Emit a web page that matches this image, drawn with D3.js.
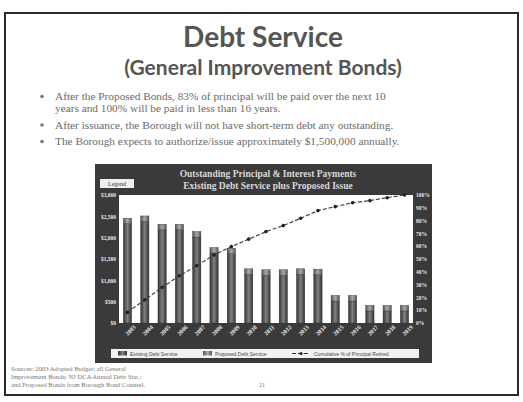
<!DOCTYPE html>
<html>
<head>
<meta charset="utf-8">
<script src="https://cdn.jsdelivr.net/npm/d3@7"></script>
<style>
  body { margin: 0; background: #fff; }
  svg { display: block; }
</style>
</head>
<body>
<div class="canva"></div>
<script>
// values (thousands of $)
const years = ['2003','2004','2005','2006','2007','2008','2009','2010','2011',
               '2012','2013','2014','2015','2016','2017','2018','2019'];
const existing = [2325, 2379, 2184, 2184, 2013, 1639, 1623, 1140, 1117, 1117, 1140, 1132, 517, 517, 283, 283, 283];
const proposed = [130, 130, 130, 130, 130, 130, 130, 130, 130, 130, 130, 130, 130, 130, 130, 130, 130];
const cumRetired = [8.3, 18.2, 27.8, 36.9, 44.7, 53.2, 59.7, 65.5, 71.4, 76.1, 81.8, 87.8, 90.9, 94.0, 95.6, 97.9, 100];
const dollarTicks = [0, 500, 1000, 1500, 2000, 2500, 3000];
const pctTicks = [0, 10, 20, 30, 40, 50, 60, 70, 80, 90, 100];
const seriesNames = ['Existing Debt Service', 'Proposed Debt Service', 'Cumulative % of Principal Retired'];

const bullets = [
  ['After the Proposed Bonds, 83% of principal will be paid over the next 10',
   'years and 100% will be paid in less than 16 years.'],
  ['After issuance, the Borough will not have short-term debt any outstanding.'],
  ['The Borough expects to authorize/issue approximately $1,500,000 annually.']
];
const footnote = [
  'Sources: 2003 Adopted Budget; all General',
  'Improvement Bonds; NJ DCA Annual Debt Stat.;',
  'and Proposed Bonds from Borough Bond Counsel.'
];

const svg = d3.select('.canva').append('svg')
    .attr('width', 523)
    .attr('height', 402)

const defs = svg.append('defs')
const g1 = defs.append('linearGradient').attr('id', 'barA')
g1.append('stop').attr('offset', '0%').attr('stop-color', '#333')
g1.append('stop').attr('offset', '50%').attr('stop-color', '#808080')
g1.append('stop').attr('offset', '100%').attr('stop-color', '#333')
const g2 = defs.append('linearGradient').attr('id', 'barB')
g2.append('stop').attr('offset', '0%').attr('stop-color', '#555')
g2.append('stop').attr('offset', '50%').attr('stop-color', '#aaa')
g2.append('stop').attr('offset', '100%').attr('stop-color', '#555')

// slide frame
svg.append('rect')
    .attr('x', 5).attr('y', 13).attr('width', 513).attr('height', 382)
    .attr('fill', '#fff').attr('stroke', '#2a2a2a').attr('stroke-width', 2)

svg.append('text')
    .attr('x', 263).attr('y', 47)
    .attr('text-anchor', 'middle')
    .style('font-family', 'Lato, sans-serif').style('font-weight', 'bold')
    .style('font-size', '28px').attr('fill', '#555')
    .text('Debt Service')
svg.append('text')
    .attr('x', 263).attr('y', 75)
    .attr('text-anchor', 'middle')
    .style('font-family', 'Lato, sans-serif').style('font-weight', 'bold')
    .style('font-size', '21px').attr('fill', '#555')
    .text('(General Improvement Bonds)')

let by = 100
bullets.forEach(lines => {
    svg.append('circle').attr('cx', 42).attr('cy', by - 3.5).attr('r', 1.8).attr('fill', '#777')
    lines.forEach(l => {
        svg.append('text')
            .attr('x', 55).attr('y', by)
            .style('font-family', '"Liberation Serif", serif')
            .style('font-size', '11.3px').attr('fill', '#6a6a6a')
            .text(l)
        by += 12
    })
    by += 4.5
})

// chart box
const box = { x: 95, y: 164, w: 337, h: 199 }
svg.append('rect')
    .attr('x', box.x).attr('y', box.y).attr('width', box.w).attr('height', box.h)
    .attr('fill', '#3a3a3a')

const titleLines = ['Outstanding Principal & Interest Payments', 'Existing Debt Service plus Proposed Issue']
titleLines.forEach((t, i) => {
    svg.append('text')
        .attr('x', 268).attr('y', 177 + i * 12)
        .attr('text-anchor', 'middle')
        .style('font-family', '"Liberation Serif", serif').style('font-weight', 'bold')
        .style('font-size', '9.5px').attr('fill', '#d8d8d8')
        .text(t)
})

svg.append('rect').attr('x', 100).attr('y', 179).attr('width', 34).attr('height', 9).attr('fill', '#eee')
svg.append('text').attr('x', 117).attr('y', 186).attr('text-anchor', 'middle')
    .style('font-family', '"Liberation Serif", serif').style('font-size', '6px').attr('fill', '#333')
    .text('Legend')

const plot = { x: 119, y: 195, w: 294, h: 128 }
const graph = svg.append('g').attr('transform', `translate(${plot.x}, ${plot.y})`)

graph.append('rect').attr('width', plot.w).attr('height', plot.h).attr('fill', '#fff')

const x = d3.scaleBand().domain(years).range([0, plot.w]).paddingInner(0.52).paddingOuter(0.25)
const y = d3.scaleLinear().domain([0, 3000]).range([plot.h, 0])
const yp = d3.scaleLinear().domain([0, 100]).range([plot.h, 0])

const rows = years.map((yr, i) => ({ year: yr, existing: existing[i], proposed: proposed[i] }))
const stack = d3.stack().keys(['existing', 'proposed'])(rows)

graph.selectAll('g.layer').data(stack).enter().append('g')
    .attr('fill', (d, i) => i === 0 ? 'url(#barA)' : 'url(#barB)')
    .selectAll('rect').data(d => d).enter().append('rect')
    .attr('x', d => x(d.data.year))
    .attr('width', x.bandwidth())
    .attr('y', d => y(d[1]))
    .attr('height', d => y(d[0]) - y(d[1]))
    .attr('stroke', '#333').attr('stroke-width', 0.4)

const line = d3.line()
    .x((d, i) => x(years[i]) + x.bandwidth() / 2)
    .y(d => yp(d))
graph.append('path').datum(cumRetired)
    .attr('d', line).attr('fill', 'none')
    .attr('stroke', '#444').attr('stroke-width', 1.2).attr('stroke-dasharray', '4,2')
graph.selectAll('circle.pt').data(cumRetired).enter().append('circle')
    .attr('cx', (d, i) => x(years[i]) + x.bandwidth() / 2)
    .attr('cy', d => yp(d)).attr('r', 1.8).attr('fill', '#222')

// axes
const yAxis = d3.axisLeft(y).tickValues(dollarTicks).tickSize(0).tickPadding(3)
    .tickFormat(d => '$' + d3.format(',')(d))
const yAxisR = d3.axisRight(yp).tickValues(pctTicks).tickSize(0).tickPadding(3)
    .tickFormat(d => d + '%')
const xAxis = d3.axisBottom(x).tickSize(0).tickPadding(4)

const ga = graph.append('g').call(yAxis)
const gb = graph.append('g').attr('transform', `translate(${plot.w}, 0)`).call(yAxisR)
const gx = graph.append('g').attr('transform', `translate(0, ${plot.h})`).call(xAxis)
;[ga, gb, gx].forEach(a => {
    a.select('.domain').remove()
    a.selectAll('text')
        .style('font-family', '"Liberation Serif", serif').style('font-weight', 'bold')
        .style('font-size', '5.5px').attr('fill', '#e6e6e6')
})
gx.selectAll('text')
    .style('font-size', '6px')
    .attr('text-anchor', 'end')
    .attr('dx', '0.5em').attr('dy', '0.9em')
    .attr('transform', 'rotate(-45)')

// legend strip
svg.append('rect').attr('x', 111).attr('y', 349).attr('width', 308).attr('height', 9).attr('fill', '#f2f2f2')
const legX = [118, 203, 292]
seriesNames.forEach((n, i) => {
    const lx = legX[i]
    if (i < 2) {
        svg.append('rect').attr('x', lx).attr('y', 351).attr('width', 9).attr('height', 4.5)
            .attr('fill', i === 0 ? 'url(#barA)' : 'url(#barB)')
    } else {
        svg.append('line').attr('x1', lx).attr('x2', lx + 18).attr('y1', 353.5).attr('y2', 353.5)
            .attr('stroke', '#333').attr('stroke-width', 1.2).attr('stroke-dasharray', '4,2')
        svg.append('circle').attr('cx', lx + 9).attr('cy', 353.5).attr('r', 1.6).attr('fill', '#222')
    }
    svg.append('text').attr('x', lx + (i < 2 ? 12 : 22)).attr('y', 355.5)
        .style('font-family', '"Liberation Sans", sans-serif').style('font-size', '5px').attr('fill', '#444')
        .text(n)
})

// footnote and page number
footnote.forEach((t, i) => {
    svg.append('text').attr('x', 11).attr('y', 371 + i * 8)
        .style('font-family', '"Liberation Serif", serif').style('font-size', '6.6px').attr('fill', '#777')
        .text(t)
})
svg.append('text').attr('x', 262).attr('y', 387).attr('text-anchor', 'middle')
    .style('font-family', '"Liberation Serif", serif').style('font-size', '6px').attr('fill', '#777')
    .text('21')
</script>
</body>
</html>
